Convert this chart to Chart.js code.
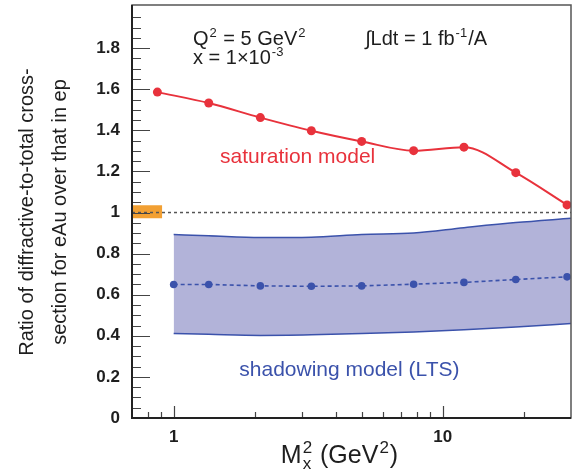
<!DOCTYPE html>
<html>
<head>
<meta charset="utf-8">
<script src="https://cdn.jsdelivr.net/npm/chart.js@4.4.1/dist/chart.umd.min.js"></script>
<style>
  html, body { margin: 0; background: #fff; }
  #wrap { width: 578px; height: 472px; }
</style>
</head>
<body>
<div id="wrap"><canvas id="ratioChart"></canvas></div>
<script>
// ─── Data ───
const satX = [0.87, 1.35, 2.1, 3.25, 5.0, 7.8, 12.0, 18.7, 29.0];
const satY = [1.586, 1.533, 1.462, 1.398, 1.346, 1.301, 1.318, 1.194, 1.037];
const shadX = [1.0, 1.35, 2.1, 3.25, 5.0, 7.8, 12.0, 18.7, 29.0];
const shadY = [0.650, 0.650, 0.643, 0.641, 0.643, 0.651, 0.660, 0.674, 0.687];
const bandX = [1.0, 1.35, 2.1, 3.25, 5.0, 7.8, 12.0, 18.7, 30.0];
const bandHi = [0.893, 0.887, 0.878, 0.880, 0.893, 0.900, 0.926, 0.951, 0.972];
const bandLo = [0.411, 0.407, 0.402, 0.405, 0.411, 0.419, 0.430, 0.443, 0.460];
const normX = [0.7, 0.907];
const normHi = [1.036, 1.036];
const normLo = [0.972, 0.972];
const refX = [0.7, 30];
const refY = [1, 1];

const xMajorTicks = [1, 10];
const xMinorTicks = [0.8, 0.9, 2, 3, 4, 5, 6, 7, 8, 9, 20];
const yMajorTicks = [0, 0.2, 0.4, 0.6, 0.8, 1, 1.2, 1.4, 1.6, 1.8];
const yMinorStep = 0.05;

const RED = '#e8323c', BLUE = '#3b52ab', BAND = '#b2b3d9', ORANGE = '#f2a033';
const FONT = '"Liberation Sans", "DejaVu Sans", Arial, sans-serif';
const INK = '#1e1e1e';

const pts = (xs, ys) => xs.map((x, i) => ({ x, y: ys[i] }));

// text with super/subscripts: strings are normal runs, objects carry sup/sub
function rich(ctx, parts, size, x0, y0, draw) {
  const small = Math.round(size * 0.66);
  let x = x0;
  for (const p of parts) {
    if (typeof p === 'string') {
      ctx.font = `${size}px ${FONT}`;
      if (draw) ctx.fillText(p, x, y0);
      x += ctx.measureText(p).width;
    } else {
      ctx.font = `${small}px ${FONT}`;
      let w = 0;
      if (p.sup != null) {
        if (draw) ctx.fillText(p.sup, x + 1, y0 - size * 0.4);
        w = Math.max(w, ctx.measureText(p.sup).width);
      }
      if (p.sub != null) {
        if (draw) ctx.fillText(p.sub, x + 1, y0 + size * 0.22);
        w = Math.max(w, ctx.measureText(p.sub).width);
      }
      x += w + 2;
    }
  }
  return x - x0;
}
function richAt(ctx, parts, size, x, y, align) {
  const w = rich(ctx, parts, size, 0, 0, false);
  const left = align === 'center' ? x - w / 2 : x;
  rich(ctx, parts, size, left, y, true);
}

const decor = {
  id: 'decor',
  afterDraw(chart) {
    const { ctx, chartArea: a, scales: { x, y } } = chart;
    ctx.save();
    ctx.textBaseline = 'alphabetic';
    ctx.textAlign = 'left';

    // ticks pointing inward
    ctx.strokeStyle = '#444';
    ctx.lineWidth = 1.2;
    ctx.beginPath();
    const nY = Math.round(2 / yMinorStep);
    for (let i = 1; i < nY; i++) {
      const py = Math.round(y.getPixelForValue(i * yMinorStep)) + 0.5;
      const len = i % 4 === 0 ? 18 : 9;
      ctx.moveTo(a.left, py); ctx.lineTo(a.left + len, py);
    }
    xMinorTicks.forEach(v => {
      const px = Math.round(x.getPixelForValue(v)) + 0.5;
      ctx.moveTo(px, a.bottom); ctx.lineTo(px, a.bottom - 6);
    });
    xMajorTicks.forEach(v => {
      const px = Math.round(x.getPixelForValue(v)) + 0.5;
      ctx.moveTo(px, a.bottom); ctx.lineTo(px, a.bottom - 12);
    });
    ctx.stroke();

    // frame
    ctx.strokeStyle = '#555';
    ctx.lineWidth = 1.5;
    ctx.strokeRect(a.left, a.top, a.right - a.left, a.bottom - a.top);
    ctx.strokeStyle = '#222';
    ctx.lineWidth = 2;
    ctx.beginPath();
    ctx.moveTo(a.left, a.top); ctx.lineTo(a.left, a.bottom); ctx.lineTo(a.right, a.bottom);
    ctx.stroke();

    // annotations
    ctx.fillStyle = INK;
    richAt(ctx, ['Q', { sup: '2' }, ' = 5 GeV', { sup: '2' }], 20,
      x.getPixelForValue(1.18), y.getPixelForValue(1.817), 'left');
    richAt(ctx, ['x = 1\u00d710', { sup: '-3' }], 20,
      x.getPixelForValue(1.18), y.getPixelForValue(1.724), 'left');
    richAt(ctx, ['\u222bLdt = 1 fb', { sup: '-1' }, '/A'], 20,
      x.getPixelForValue(5.15), y.getPixelForValue(1.817), 'left');

    ctx.textBaseline = 'middle';
    ctx.textAlign = 'center';
    ctx.font = `21px ${FONT}`;
    ctx.fillStyle = RED;
    ctx.fillText('saturation model', x.getPixelForValue(2.89), y.getPixelForValue(1.271));
    ctx.fillStyle = BLUE;
    ctx.fillText('shadowing model (LTS)', x.getPixelForValue(4.5), y.getPixelForValue(0.232));

    // axis titles
    ctx.textBaseline = 'alphabetic';
    ctx.textAlign = 'left';
    ctx.fillStyle = INK;
    richAt(ctx, ['M', { sup: '2', sub: 'x' }, ' (GeV', { sup: '2' }, ')'], 25,
      (a.left + a.right) / 2 - 12, 463, 'center');

    ctx.save();
    ctx.translate(0, 212);
    ctx.rotate(-Math.PI / 2);
    ctx.textAlign = 'center';
    ctx.font = `20px ${FONT}`;
    ctx.fillText('Ratio of diffractive-to-total cross-', 0, 33);
    ctx.fillText('section for eAu over that in ep', 0, 66);
    ctx.restore();

    ctx.restore();
  }
};

const noPad = s => { s.paddingTop = 0; s.paddingBottom = 0; s.paddingLeft = 0; s.paddingRight = 0; };

new Chart(document.getElementById('ratioChart'), {
  type: 'line',
  data: {
    datasets: [
      { label: 'saturation model', data: pts(satX, satY), borderColor: RED, backgroundColor: RED,
        borderWidth: 2, pointRadius: 4.5, pointBorderWidth: 0, cubicInterpolationMode: 'monotone', fill: false },
      { label: 'shadowing model (LTS)', data: pts(shadX, shadY), borderColor: BLUE, backgroundColor: BLUE,
        borderWidth: 1.6, borderDash: [4, 3], pointRadius: 3.8, pointBorderWidth: 0, fill: false },
      { label: 'ratio = 1', data: pts(refX, refY), borderColor: '#555', borderWidth: 1.5,
        borderDash: [3, 3], pointRadius: 0, fill: false },
      { label: 'norm hi', data: pts(normX, normHi), borderWidth: 0, pointRadius: 0,
        backgroundColor: ORANGE, fill: '+1' },
      { label: 'norm lo', data: pts(normX, normLo), borderWidth: 0, pointRadius: 0, fill: false },
      { label: 'band hi', data: pts(bandX, bandHi), borderColor: BLUE, borderWidth: 1.5, pointRadius: 0,
        cubicInterpolationMode: 'monotone', backgroundColor: BAND, fill: '+1' },
      { label: 'band lo', data: pts(bandX, bandLo), borderColor: BLUE, borderWidth: 1.5, pointRadius: 0,
        cubicInterpolationMode: 'monotone', fill: false }
    ]
  },
  options: {
    responsive: true, maintainAspectRatio: false, animation: false,
    layout: { padding: { top: 5, right: 7, left: 0, bottom: 0 } },
    plugins: {
      legend: { display: false }, tooltip: { enabled: false },
      filler: { drawTime: 'beforeDatasetsDraw' }
    },
    scales: {
      x: {
        type: 'logarithmic', min: 0.7, max: 30,
        afterBuildTicks: s => { s.ticks = xMajorTicks.map(v => ({ value: v })); },
        afterFit: s => { s.height = 54; noPad(s); },
        grid: { display: false, drawTicks: false }, border: { display: false },
        ticks: { autoSkip: false, maxRotation: 0, padding: 9, color: INK,
          font: { family: FONT, size: 17, weight: 'bold' }, callback: v => String(v) }
      },
      y: {
        type: 'linear', min: 0, max: 2.01,
        afterBuildTicks: s => { s.ticks = yMajorTicks.map(v => ({ value: v })); },
        afterFit: s => { s.width = 132; noPad(s); },
        grid: { display: false, drawTicks: false }, border: { display: false },
        ticks: { autoSkip: false, padding: 12, color: INK,
          font: { family: FONT, size: 17, weight: 'bold' },
          callback: v => (v === 0 || v === 1) ? String(v) : v.toFixed(1) }
      }
    }
  },
  plugins: [decor]
});
</script>
</body>
</html>
